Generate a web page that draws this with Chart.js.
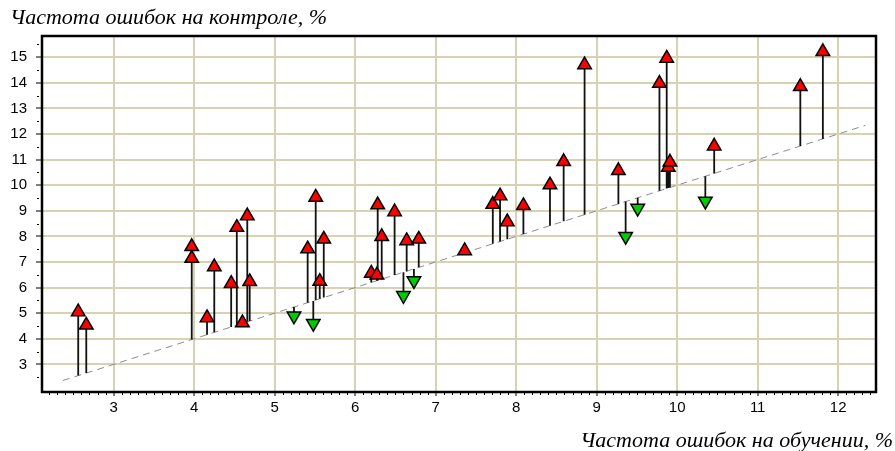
<!DOCTYPE html>
<html>
<head>
<meta charset="UTF-8">
<title>Частота ошибок на обучении и контроле</title>
<script src="https://cdn.jsdelivr.net/npm/chart.js@4"></script>
<style>
  body { margin: 0; background: #fff; }
</style>
</head>
<body>
<canvas id="chart" width="895" height="451"></canvas>
<script>
// error rate on training (x) and on control (y), one pair per point
const trainErr = [2.56, 2.66, 3.97, 3.97, 4.16, 4.25, 4.46, 4.53, 4.60, 4.66, 4.69,
                  5.24, 5.41, 5.48, 5.51, 5.56, 5.61, 6.20, 6.27, 6.28, 6.33, 6.49,
                  6.60, 6.64, 6.73, 6.79, 7.36, 7.71, 7.80, 7.89, 8.09, 8.42, 8.59,
                  8.85, 9.27, 9.36, 9.51, 9.78, 9.87, 9.89, 9.91, 10.35, 10.46, 11.53, 11.81];
const testErr  = [5.05, 4.53, 7.60, 7.14, 4.82, 6.81, 6.16, 8.35, 4.62, 8.80, 6.23,
                  4.89, 7.51, 4.60, 9.53, 6.24, 7.89, 6.56, 6.49, 9.23, 7.99, 8.96,
                  5.69, 7.83, 6.27, 7.89, 7.44, 9.25, 9.58, 8.57, 9.20, 10.01, 10.92,
                  14.70, 10.57, 8.00, 9.10, 13.98, 14.96, 10.70, 10.90, 9.38, 11.53, 13.85, 15.22];
// diagonal y = x
const diagonal = [2.37, 12.34];

const xTitle = "Частота ошибок на обучении, %";
const yTitle = "Частота ошибок на контроле, %";

const xRange = [2.11, 12.47];
const yRange = [1.92, 15.83];

// split into worse-on-control (up) and better-on-control (down)
const upPts = [], downPts = [], stems = [];
trainErr.forEach((x, i) => {
    const y = testErr[i];
    if (y >= x) upPts.push({x, y}); else downPts.push({x, y});
    stems.push({x, y: x}, {x, y}, {x, y: null});
});

const GRID = '#d6d3b2';
const tickFont = {family: '"Liberation Sans", Arial, sans-serif', size: 15};
const titleFont = {family: '"Liberation Serif", "Times New Roman", serif', size: 22, style: 'italic', weight: 'normal'};

// frame round the plot and the small minor ticks
const frameTicks = {
    id: 'frameTicks',
    afterDraw(chart) {
        const {ctx, chartArea: a, scales: {x, y}} = chart;
        ctx.save();
        ctx.strokeStyle = '#000';
        ctx.lineWidth = 1;
        ctx.beginPath();
        for (let v = 22; v <= 124; v++) {
            if (v % 10 === 0) continue;
            const px = Math.round(x.getPixelForValue(v / 10)) + 0.5;
            ctx.moveTo(px, a.bottom + 1);
            ctx.lineTo(px, a.bottom + 3);
        }
        for (let v = 2.5; v <= 15.5; v += 1) {
            const py = Math.round(y.getPixelForValue(v)) + 0.5;
            ctx.moveTo(a.left - 5, py);
            ctx.lineTo(a.left - 3, py);
        }
        ctx.stroke();
        ctx.lineWidth = 2.5;
        ctx.strokeRect(a.left, a.top, a.right - a.left, a.bottom - a.top);
        ctx.restore();
    }
};

new Chart(document.getElementById('chart'), {
    type: 'scatter',
    data: {
        datasets: [
            {
                data: upPts,
                pointStyle: 'triangle',
                pointRadius: 7.8,
                backgroundColor: '#ff0000',
                borderColor: '#000',
                borderWidth: 1.5
            },
            {
                data: downPts,
                pointStyle: 'triangle',
                rotation: 180,
                pointRadius: 7.8,
                backgroundColor: '#00cc00',
                borderColor: '#000',
                borderWidth: 1.5
            },
            {
                data: stems,
                showLine: true,
                spanGaps: false,
                pointRadius: 0,
                borderColor: '#111',
                borderWidth: 1.8
            },
            {
                data: diagonal.map(v => ({x: v, y: v})),
                showLine: true,
                pointRadius: 0,
                borderColor: '#8c8c8c',
                borderWidth: 1,
                borderDash: [7, 5]
            }
        ]
    },
    options: {
        responsive: false,
        animation: false,
        layout: {padding: {top: 1, left: 10, right: 2, bottom: 0}},
        plugins: {
            legend: {display: false},
            tooltip: {enabled: false},
            title: {
                display: true, text: yTitle, align: 'start', color: '#000',
                font: titleFont, padding: {top: 4, bottom: 4.6}
            },
            subtitle: {
                display: true, text: xTitle, position: 'bottom', align: 'end', color: '#000',
                font: titleFont, padding: {top: 0, bottom: -3}
            }
        },
        scales: {
            x: {
                type: 'linear',
                min: xRange[0], max: xRange[1],
                border: {display: false},
                grid: {color: GRID, lineWidth: 2, tickColor: '#000', tickLength: 4, tickWidth: 1},
                ticks: {stepSize: 1, includeBounds: false, color: '#000', font: tickFont, padding: 3},
                afterFit(s) { s.height = 35.6; }
            },
            y: {
                type: 'linear',
                min: yRange[0], max: yRange[1],
                border: {display: false},
                grid: {
                    color: c => c.tick && c.tick.value < 3 ? 'rgba(0,0,0,0)' : GRID,
                    tickColor: c => c.tick && c.tick.value < 3 ? 'rgba(0,0,0,0)' : '#000',
                    lineWidth: 2, tickLength: 6, tickWidth: 1
                },
                ticks: {
                    stepSize: 1, includeBounds: false, color: '#000', font: tickFont, padding: 9,
                    callback: v => v < 3 ? '' : v
                },
                afterFit(s) { s.width = 32; }
            },
            y2: {
                position: 'right',
                grid: {display: false, drawTicks: false},
                border: {display: false},
                ticks: {display: false},
                afterFit(s) { s.width = 17; }
            }
        }
    },
    plugins: [frameTicks]
});
</script>
</body>
</html>
